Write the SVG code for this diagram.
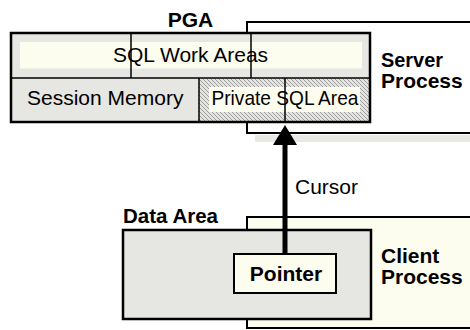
<svg xmlns="http://www.w3.org/2000/svg" width="470" height="330" viewBox="0 0 470 330">
<style>
.t{font-family:"Liberation Sans",Arial,sans-serif;font-size:21px;fill:#000}
.b{font-family:"Liberation Sans",Arial,sans-serif;font-size:21px;font-weight:bold;fill:#000}
.gray{fill:#e6e6e2}
.yel{fill:#fdfdef}
.ln{stroke:#000;fill:none}
</style>
<defs>
<pattern id="hatch" patternUnits="userSpaceOnUse" width="4" height="4">
<rect width="4" height="4" fill="#e4e4e0"/>
<path d="M-1,-1 L5,5 M-1,3 L1,5 M3,-1 L5,1" stroke="#8a8a8a" stroke-width="0.8"/>
</pattern>
</defs>
<rect width="470" height="330" fill="#fff"/>
<g id="server-process">
<rect x="247" y="22" width="240" height="111" fill="#fff" stroke="#000" stroke-width="2"/>
<rect x="255" y="135" width="215" height="7" fill="#e8e8e4"/>
<text class="b" x="381" y="67" textLength="62" lengthAdjust="spacingAndGlyphs">Server</text>
<text class="b" x="381" y="88">Process</text>
</g>
<g id="client-process">
<rect x="247" y="217" width="240" height="111" class="yel" stroke="#000" stroke-width="2"/>
<text class="b" x="381" y="263">Client</text>
<text class="b" x="381" y="284">Process</text>
</g>
<g id="pga">
<text class="b" x="190.5" y="27" text-anchor="middle">PGA</text>
<rect x="11" y="33" width="359" height="89" class="gray"/>
<rect x="20" y="42" width="342" height="26.5" class="yel"/>
<rect x="199" y="78" width="171" height="44" fill="url(#hatch)"/>
<rect x="209" y="87" width="151" height="25" class="yel"/>
<line class="ln" x1="131" y1="33" x2="131" y2="78" stroke-width="1.5"/>
<line class="ln" x1="251" y1="33" x2="251" y2="78" stroke-width="1.5"/>
<line class="ln" x1="11" y1="78" x2="370" y2="78" stroke-width="1.5"/>
<line class="ln" x1="199" y1="78" x2="199" y2="122" stroke-width="1.5"/>
<rect x="11" y="33" width="359" height="89" class="ln" stroke-width="2.5"/>
<text class="t" x="190.5" y="62" text-anchor="middle">SQL Work Areas</text>
<text class="t" x="27" y="104.5">Session Memory</text>
<text class="t" x="211.5" y="104.5" textLength="147" lengthAdjust="spacingAndGlyphs">Private SQL Area</text>
</g>
<g id="data-area">
<text class="b" x="123" y="223" textLength="95" lengthAdjust="spacingAndGlyphs">Data Area</text>
<rect x="123" y="230" width="248" height="89" class="gray" stroke="#000" stroke-width="2.5"/>
</g>
<g id="pointer">
<rect x="234" y="254" width="102" height="39" class="yel" stroke="#000" stroke-width="2"/>
<text class="b" x="286" y="280.5" text-anchor="middle">Pointer</text>
</g>
<g id="connectors">
<line class="ln" x1="285" y1="78" x2="285" y2="122" stroke-width="1.5"/>
<line class="ln" x1="285" y1="254" x2="285" y2="143" stroke-width="5"/>
<polygon points="285,125 273,145 297,145" fill="#000"/>
<text class="t" x="295" y="194">Cursor</text>
</g>
</svg>
